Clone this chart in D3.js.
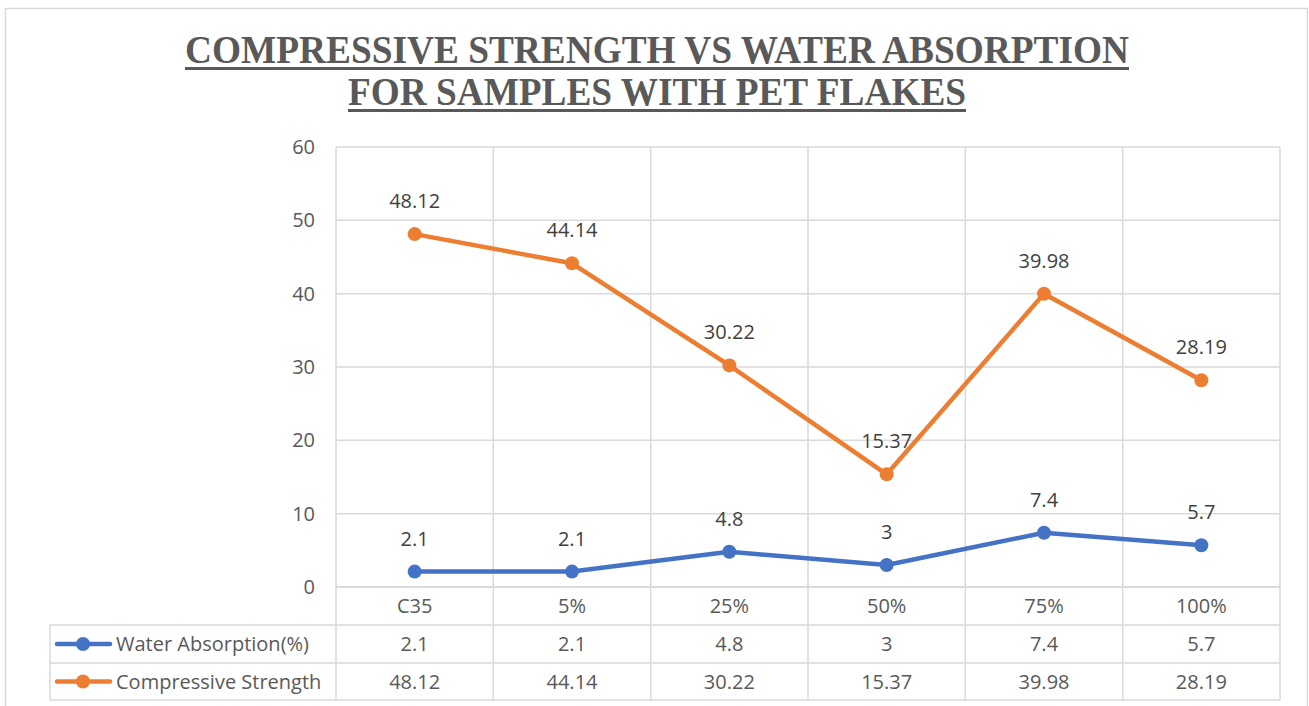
<!DOCTYPE html>
<html><head><meta charset="utf-8">
<script src="https://cdn.jsdelivr.net/npm/d3@7"></script>
<style>html,body{margin:0;padding:0;background:#fff;}svg{display:block;}</style>
</head><body>
<svg id="c" width="1309" height="706"></svg>
<script>
const categories = ["C35","5%","25%","50%","75%","100%"];
const waterAbsorption = [2.1,2.1,4.8,3,7.4,5.7];
const compressiveStrength = [48.12,44.14,30.22,15.37,39.98,28.19];
const yTicks = [0,10,20,30,40,50,60];
const seriesNames = ["Water Absorption(%)","Compressive Strength"];
const titleLines = ["COMPRESSIVE STRENGTH VS WATER ABSORPTION","FOR SAMPLES WITH PET FLAKES"];

const series = [
  {name: seriesNames[0], values: waterAbsorption, color: "#4472C4"},
  {name: seriesNames[1], values: compressiveStrength, color: "#ED7D31"}
];

const svg = d3.select("#c");
const font = "'Open Sans', sans-serif";
const fs = 20;
const grid = "#d9d9d9";
const L = 336, R = 1280, T = 147, B = 587;
const rowH = [587, 625, 663, 700];
const legendLeft = 50;

// outer frame
svg.append("rect").attr("x",5.5).attr("y",8.5).attr("width",1302).attr("height",705)
  .attr("fill","none").attr("stroke",grid).attr("stroke-width",1.5);

// title
const titleG = svg.append("g");
const tl = [{t:titleLines[0], y:63, w:944},{t:titleLines[1], y:105, w:618}];
tl.forEach(d=>{
  titleG.append("text").attr("x",657).attr("y",d.y).attr("text-anchor","middle")
    .attr("font-family","'Liberation Serif', 'Times New Roman', serif").attr("font-weight","bold")
    .attr("font-size",39).attr("fill","#595959")
    .attr("textLength",d.w).attr("lengthAdjust","spacingAndGlyphs").text(d.t);
  titleG.append("rect").attr("x",657-d.w/2).attr("y",d.y+4).attr("width",d.w).attr("height",3).attr("fill","#595959");
});

const x = d3.scaleBand().domain(categories).range([L,R]);
const y = d3.scaleLinear().domain([0,60]).range([B,T]);

// horizontal gridlines
svg.append("g").selectAll("line").data(yTicks).join("line")
  .attr("x1",L).attr("x2",R).attr("y1",d=>y(d)).attr("y2",d=>y(d))
  .attr("stroke",grid).attr("stroke-width",1.5);

// vertical gridlines (column boundaries), extend through table
const bounds = categories.map(c=>x(c)).concat([R]);
svg.append("g").selectAll("line").data(bounds).join("line")
  .attr("x1",d=>d).attr("x2",d=>d).attr("y1",T).attr("y2",rowH[3])
  .attr("stroke",grid).attr("stroke-width",1.5);

// table horizontal lines
svg.append("g").selectAll("line").data(rowH).join("line")
  .attr("x1",(d,i)=>i===0?L:legendLeft).attr("x2",R).attr("y1",d=>d).attr("y2",d=>d)
  .attr("stroke",grid).attr("stroke-width",1.5);
svg.append("line").attr("x1",legendLeft).attr("x2",legendLeft).attr("y1",rowH[1]).attr("y2",rowH[3])
  .attr("stroke",grid).attr("stroke-width",1.5);

// y axis labels
const yAxis = d3.axisLeft(y).tickValues(yTicks).tickSize(0).tickPadding(21);
const yg = svg.append("g").attr("transform",`translate(${L},0)`).call(yAxis);
yg.select(".domain").remove();
yg.selectAll("text").attr("font-family",font).attr("font-size",fs).attr("fill","#595959");

// category labels row
svg.append("g").selectAll("text").data(categories).join("text")
  .attr("x",d=>x(d)+x.bandwidth()/2).attr("y",(rowH[0]+rowH[1])/2).attr("dy","0.35em")
  .attr("text-anchor","middle").attr("font-family",font).attr("font-size",fs).attr("fill","#595959")
  .text(d=>d);

// lines
const line = d3.line().x((d,i)=>x(categories[i])+x.bandwidth()/2).y(d=>y(d));
series.forEach((s,si)=>{
  const g = svg.append("g");
  g.append("path").datum(s.values).attr("d",line).attr("fill","none")
    .attr("stroke",s.color).attr("stroke-width",4.5).attr("stroke-linejoin","round");
  g.selectAll("circle").data(s.values).join("circle")
    .attr("cx",(d,i)=>x(categories[i])+x.bandwidth()/2).attr("cy",d=>y(d)).attr("r",7)
    .attr("fill",s.color);
  g.selectAll("text.lbl").data(s.values).join("text").attr("class","lbl")
    .attr("x",(d,i)=>x(categories[i])+x.bandwidth()/2).attr("y",d=>y(d)-33).attr("dy","0.35em")
    .attr("text-anchor","middle").attr("font-family",font).attr("font-size",fs).attr("fill","#404040")
    .text(d=>d);

  // table row
  const ry = (rowH[si+1]+rowH[si+2])/2;
  svg.append("g").selectAll("text").data(s.values).join("text")
    .attr("x",(d,i)=>x(categories[i])+x.bandwidth()/2).attr("y",ry).attr("dy","0.35em")
    .attr("text-anchor","middle").attr("font-family",font).attr("font-size",fs).attr("fill","#595959")
    .text(d=>d);
  // legend key
  svg.append("line").attr("x1",57).attr("x2",110).attr("y1",ry).attr("y2",ry)
    .attr("stroke",s.color).attr("stroke-width",4.5).attr("stroke-linecap","round");
  svg.append("circle").attr("cx",83).attr("cy",ry).attr("r",7).attr("fill",s.color);
  svg.append("text").attr("x",116).attr("y",ry).attr("dy","0.35em")
    .attr("font-family",font).attr("font-size",fs).attr("fill","#595959").text(s.name);
});
</script>
</body></html>
